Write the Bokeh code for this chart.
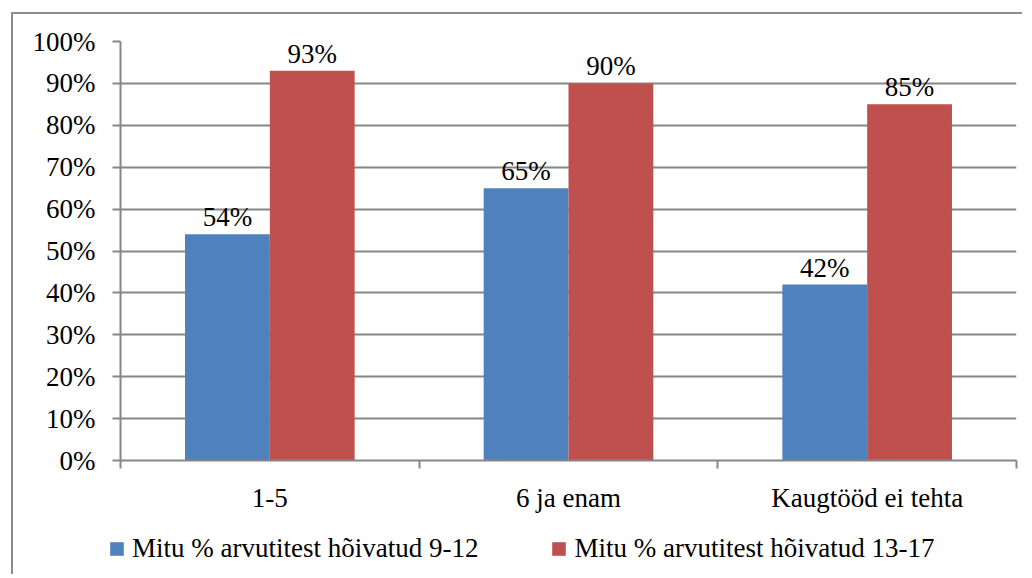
from bokeh.plotting import figure
from bokeh.layouts import column, row
from bokeh.models import (ColumnDataSource, FixedTicker, NumeralTickFormatter, Legend, LegendItem, Range1d)
from bokeh.core.properties import value
from bokeh.embed import file_html
from bokeh.resources import INLINE
import numpy as np

categories = ["1-5", "6 ja enam", "Kaugtööd ei tehta"]
series_names = ["Mitu % arvutitest hõivatud 9-12", "Mitu % arvutitest hõivatud 13-17"]
values_9_12 = [0.54, 0.65, 0.42]
values_13_17 = [0.93, 0.90, 0.85]
y_ticks = [0.0, 0.1, 0.2, 0.3, 0.4, 0.5, 0.6, 0.7, 0.8, 0.9, 1.0]

BLUE = "#4F81BD"
RED = "#C0504D"
GRAY = "#868686"
FONT = "Liberation Serif"
FS = "27px"

centers = np.arange(len(categories)) + 0.5
bw = 0.284
off = bw / 2

p = figure(width=1009, height=506, x_range=Range1d(0, len(categories)), y_range=Range1d(0, 1),
           output_backend="svg", toolbar_location=None,
           min_border_left=107, min_border_right=6, min_border_top=27, min_border_bottom=60)
p.outline_line_color = None
p.background_fill_color = "white"

src1 = ColumnDataSource(dict(x=centers - off, top=values_9_12,
                             lbl=[f"{round(v*100)}%" for v in values_9_12]))
src2 = ColumnDataSource(dict(x=centers + off, top=values_13_17,
                             lbl=[f"{round(v*100)}%" for v in values_13_17]))

p.vbar(x="x", top="top", bottom=0, width=bw, source=src1, fill_color=BLUE, line_color=None)
p.vbar(x="x", top="top", bottom=0, width=bw, source=src2, fill_color=RED, line_color=None)

for s in (src1, src2):
    p.text(x="x", y="top", text="lbl", source=s, text_align="center", text_baseline="alphabetic",
           y_offset=-17, text_font=value(FONT), text_font_size=FS, text_color="black")

# axes
p.xaxis.ticker = FixedTicker(ticks=list(centers), minor_ticks=list(range(len(categories) + 1)))
p.xaxis.major_label_overrides = {float(c): cat for c, cat in zip(centers, categories)}
p.xaxis.major_tick_line_color = None
p.xaxis.minor_tick_in = 0
p.xaxis.minor_tick_out = 8
p.xaxis.minor_tick_line_color = GRAY
p.xaxis.minor_tick_line_width = 2
p.xaxis.axis_line_color = GRAY
p.xaxis.axis_line_width = 2
p.xaxis.major_label_text_font = FONT
p.xaxis.major_label_text_font_size = FS
p.xaxis.major_label_text_color = "black"
p.xaxis.major_label_standoff = 14

p.yaxis.ticker = FixedTicker(ticks=y_ticks)
p.yaxis.formatter = NumeralTickFormatter(format="0%")
p.yaxis.major_tick_in = 0
p.yaxis.major_tick_out = 8
p.yaxis.major_tick_line_color = GRAY
p.yaxis.major_tick_line_width = 2
p.yaxis.minor_tick_line_color = None
p.yaxis.axis_line_color = GRAY
p.yaxis.axis_line_width = 2
p.yaxis.major_label_text_font = FONT
p.yaxis.major_label_text_font_size = FS
p.yaxis.major_label_text_color = "black"
p.yaxis.major_label_standoff = 17

p.xgrid.grid_line_color = None
p.ygrid.grid_line_color = GRAY
p.ygrid.grid_line_width = 2

# legend strip (the series' bars are referenced but hidden here)
q = figure(width=1009, height=54, x_range=Range1d(0, len(categories)), y_range=Range1d(0, 1),
           output_backend="svg", toolbar_location=None, x_axis_type=None, y_axis_type=None,
           min_border=0)
q.outline_line_color = None
q.grid.visible = False
l1 = q.vbar(x="x", top="top", width=bw, source=src1, fill_color=BLUE, line_color=None, visible=False)
l2 = q.vbar(x="x", top="top", width=bw, source=src2, fill_color=RED, line_color=None, visible=False)
legend = Legend(items=[LegendItem(label=series_names[0], renderers=[l1], index=0),
                       LegendItem(label=series_names[1], renderers=[l2], index=0)],
                orientation="horizontal", location=(95, 10),
                label_text_font=FONT, label_text_font_size=FS, label_text_color="black",
                glyph_width=17, glyph_height=17, label_standoff=7, spacing=72,
                padding=0, margin=0, border_line_color=None, background_fill_alpha=0,
                inactive_fill_alpha=0)
q.add_layout(legend, "center")

lay = column(p, row(q, spacing=0), spacing=0,
             styles={"margin-left": "11px", "margin-top": "12px",
                     "border-left": "2px solid #8c8c8c", "border-top": "2px solid #8c8c8c"})

open("out.html", "w").write(file_html(lay, INLINE))
